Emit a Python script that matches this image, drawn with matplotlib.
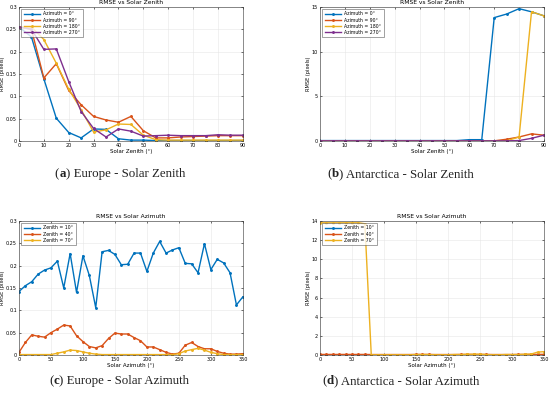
import matplotlib
matplotlib.use('Agg')
import matplotlib.pyplot as plt
import numpy as np

# --- data ---
zen = np.arange(0, 95, 5)
azi = np.arange(0, 360, 10)

eu_zen = {
    "Azimuth = 0°":   [0.255, 0.233, 0.139, 0.051, 0.019, 0.007, 0.027, 0.026, 0.005, 0.002,
                       0.002, 0.001, 0.001, 0.001, 0.001, 0.001, 0.001, 0.001, 0.001],
    "Azimuth = 90°":  [0.255, 0.250, 0.141, 0.173, 0.113, 0.081, 0.055, 0.047, 0.042, 0.055,
                       0.023, 0.007, 0.007, 0.009, 0.010, 0.011, 0.012, 0.012, 0.012],
    "Azimuth = 180°": [0.255, 0.255, 0.227, 0.174, 0.116, 0.070, 0.020, 0.025, 0.038, 0.037,
                       0.013, 0.003, 0.002, 0.002, 0.002, 0.002, 0.002, 0.002, 0.002],
    "Azimuth = 270°": [0.255, 0.250, 0.205, 0.206, 0.133, 0.066, 0.028, 0.009, 0.027, 0.022,
                       0.011, 0.012, 0.013, 0.012, 0.012, 0.012, 0.014, 0.013, 0.013],
}

an_zen = {
    "Azimuth = 0°":   [0.05, 0.05, 0.05, 0.05, 0.05, 0.05, 0.05, 0.05, 0.05, 0.05,
                       0.05, 0.05, 0.15, 0.15, 13.8, 14.2, 14.8, 14.45, 14.0],
    "Azimuth = 90°":  [0.02, 0.02, 0.02, 0.02, 0.02, 0.02, 0.02, 0.02, 0.02, 0.02,
                       0.02, 0.02, 0.02, 0.02, 0.02, 0.2, 0.45, 0.8, 0.65],
    "Azimuth = 180°": [0.02, 0.02, 0.02, 0.02, 0.02, 0.02, 0.02, 0.02, 0.02, 0.02,
                       0.02, 0.02, 0.02, 0.02, 0.02, 0.02, 0.45, 14.45, 14.0],
    "Azimuth = 270°": [0.02, 0.02, 0.02, 0.02, 0.02, 0.02, 0.02, 0.02, 0.02, 0.02,
                       0.02, 0.02, 0.02, 0.02, 0.02, 0.02, 0.05, 0.3, 0.65],
}

eu_azi = {
    "Zenith = 10°": [0.142, 0.155, 0.164, 0.181, 0.190, 0.195, 0.210, 0.150, 0.227, 0.140,
                     0.222, 0.178, 0.106, 0.231, 0.234, 0.225, 0.202, 0.203, 0.228, 0.228,
                     0.187, 0.228, 0.254, 0.228, 0.235, 0.240, 0.205, 0.204, 0.184, 0.249,
                     0.191, 0.214, 0.206, 0.184, 0.112, 0.130],
    "Zenith = 40°": [0.006, 0.028, 0.045, 0.042, 0.040, 0.050, 0.058, 0.067, 0.065, 0.043,
                     0.030, 0.019, 0.016, 0.021, 0.037, 0.049, 0.047, 0.047, 0.039, 0.032,
                     0.018, 0.018, 0.012, 0.006, 0.002, 0.004, 0.022, 0.028, 0.019, 0.014,
                     0.014, 0.008, 0.004, 0.002, 0.002, 0.003],
    "Zenith = 70°": [0.001, 0.001, 0.001, 0.001, 0.001, 0.001, 0.004, 0.007, 0.011, 0.010,
                     0.007, 0.004, 0.002, 0.001, 0.001, 0.001, 0.001, 0.001, 0.001, 0.001,
                     0.001, 0.001, 0.001, 0.001, 0.001, 0.003, 0.009, 0.012, 0.015, 0.011,
                     0.006, 0.003, 0.001, 0.001, 0.001, 0.001],
}

an_azi = {
    "Zenith = 10°": [0.02] * 36,
    "Zenith = 40°": [0.06, 0.06, 0.06, 0.06, 0.06, 0.06, 0.06, 0.06, 0.05, 0.05,
                     0.05, 0.05, 0.05, 0.05, 0.05, 0.06, 0.06, 0.06, 0.05, 0.05,
                     0.05, 0.05, 0.06, 0.06, 0.06, 0.06, 0.06, 0.05, 0.05, 0.05,
                     0.05, 0.06, 0.06, 0.06, 0.06, 0.07],
    "Zenith = 70°": [13.8, 13.8, 13.8, 13.8, 13.8, 13.8, 13.8, 13.7, 0.02, 0.02,
                     0.02, 0.02, 0.02, 0.02, 0.02, 0.05, 0.05, 0.05, 0.02, 0.02,
                     0.02, 0.05, 0.05, 0.08, 0.08, 0.08, 0.05, 0.02, 0.02, 0.05,
                     0.05, 0.05, 0.08, 0.1, 0.3, 0.35],
}

colors = ['#0072BD', '#D95319', '#EDB120', '#7E2F8E']

fig = plt.figure(figsize=(5.5, 3.98), dpi=100)

W, H = 0.407, 0.337
panels = [
    ([0.0345, 0.6457, W, H], zen, eu_zen, 'Solar Zenith (°)', 'RMSE vs Solar Zenith', (0, 90), (0, 0.3),
     np.arange(0, 91, 10), np.arange(0, 0.31, 0.05)),
    ([0.582, 0.6457, W, H], zen, an_zen, 'Solar Zenith (°)', 'RMSE vs Solar Zenith', (0, 90), (0, 15),
     np.arange(0, 91, 10), np.arange(0, 16, 5)),
    ([0.0345, 0.108, W, H], azi, eu_azi, 'Solar Azimuth (°)', 'RMSE vs Solar Azimuth', (0, 350), (0, 0.3),
     np.arange(0, 351, 50), np.arange(0, 0.31, 0.05)),
    ([0.582, 0.108, W, H], azi, an_azi, 'Solar Azimuth (°)', 'RMSE vs Solar Azimuth', (0, 350), (0, 14),
     np.arange(0, 351, 50), np.arange(0, 15, 2)),
]

for rect, x, series, xlab, title, xlim, ylim, xt, yt in panels:
    ax = fig.add_axes(rect)
    for (label, vals), c in zip(series.items(), colors):
        ax.plot(x, vals, color=c, lw=1.0, marker='.', markersize=2.2, label=label)
    ax.set_xlim(*xlim)
    ax.set_ylim(*ylim)
    ax.set_xticks(xt)
    ax.set_yticks(yt)
    ax.set_yticklabels([f'{v:g}' for v in yt])
    ax.tick_params(labelsize=3.5, length=1.5, width=0.4, pad=1.5, direction='in',
                   top=True, right=True)
    ax.grid(True, color='#e6e6e6', lw=0.4)
    ax.set_axisbelow(True)
    for s in ax.spines.values():
        s.set_linewidth(0.4)
        s.set_color('#333333')
    ax.set_xlabel(xlab, fontsize=4, labelpad=1)
    ax.set_ylabel('RMSE (pixels)', fontsize=3.6, labelpad=0.5)
    ax.set_title(title, fontsize=4.3, pad=2)
    ax.legend(loc='upper left', fontsize=3.3, frameon=True, fancybox=False,
              edgecolor='#333333', borderpad=0.5, handlelength=3.5,
              labelspacing=0.25, borderaxespad=0.5).get_frame().set_linewidth(0.4)

# captions: bold letter inside normal serif text, placed piece by piece
captions = [
    (0.218, 0.562, 'a', 'Europe - Solar Zenith'),
    (0.729, 0.562, 'b', 'Antarctica - Solar Zenith'),
    (0.217, 0.043, 'c', 'Europe - Solar Azimuth'),
    (0.729, 0.043, 'd', 'Antarctica - Solar Azimuth'),
]
renderer = fig.canvas.get_renderer()
for cx, cy, letter, rest in captions:
    pieces = [('(', 'normal'), (letter, 'bold'), (') ' + rest, 'normal')]
    kw = dict(fontsize=9.3, family='Liberation Serif', color='#222222', va='center')
    # measure total width
    widths = []
    for s, w in pieces:
        t = fig.text(0, 0, s, fontweight=w, **kw)
        widths.append(t.get_window_extent(renderer).width)
        t.remove()
    total = sum(widths)
    x0 = cx * fig.bbox.width - total / 2
    for (s, w), wd in zip(pieces, widths):
        fig.text(x0 / fig.bbox.width, cy, s, fontweight=w, ha='left', **kw)
        x0 += wd

fig.savefig('out.png', dpi=100)
